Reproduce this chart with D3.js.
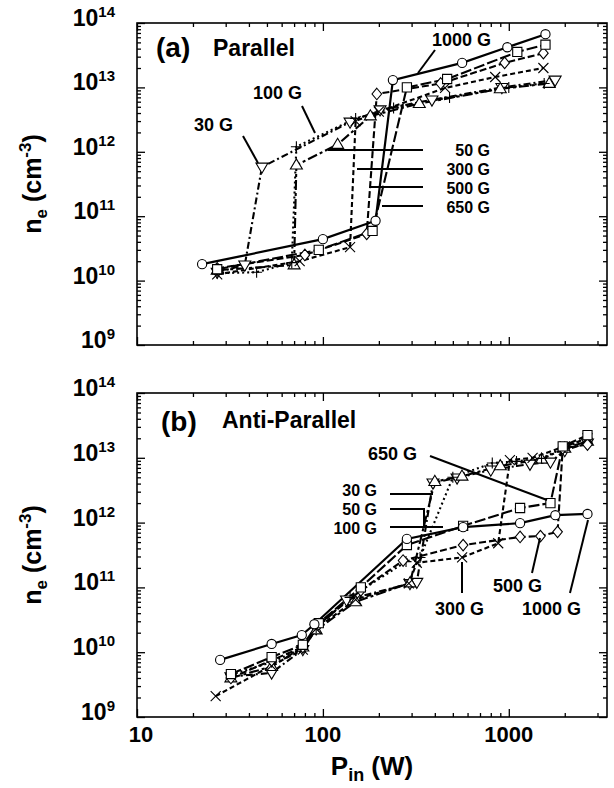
<!DOCTYPE html>
<html>
<head>
<meta charset="utf-8">
<script src="https://cdn.jsdelivr.net/npm/d3@7"></script>
<style>
  html, body { margin: 0; padding: 0; background: #fff; }
  svg { display: block; }
</style>
</head>
<body>
<svg id="chart" width="614" height="788"></svg>
<script>
// Electron density n_e versus input power P_in for several magnetic fields,
// (a) parallel and (b) anti-parallel field configuration.

// ---- data: [P_in (W), n_e (cm^-3)] ----
// (a) Parallel
const par30   = [[27,1.35e10],[38,1.75e10],[47,5.8e11],[140,2.9e12],[203,4.5e12],[386,6.4e12],[918,1.0e13],[1775,1.3e13]];
const par50   = [[27,1.45e10],[70,1.75e10],[72,6.2e11],[120,1.3e12],[180,3.6e12],[330,5.6e12],[900,9.5e12],[1650,1.15e13]];
const par100  = [[27,1.3e10],[44,1.35e10],[68,1.9e10],[72,1.2e12],[150,3.3e12],[240,4.8e12],[480,7.0e12],[1000,1.0e13],[1550,1.15e13]];
const par300  = [[27,1.25e10],[75,2.0e10],[140,3.3e10],[150,3.0e12],[200,4.2e12],[454,9.8e12],[845,1.45e13],[1535,2.0e13]];
const par500  = [[27,1.55e10],[80,2.5e10],[172,5.3e10],[195,7.9e12],[430,1.15e13],[950,2.4e13],[1535,3.4e13]];
const par650  = [[27,1.5e10],[95,3.0e10],[185,5.9e10],[283,1.0e13],[466,1.35e13],[1111,3.55e13],[1575,4.6e13]];
const par1000 = [[22.4,1.8e10],[100,4.4e10],[192,8.5e10],[238,1.3e13],[561,2.4e13],[982,4.2e13],[1575,6.7e13]];

// (b) Anti-Parallel
const anti30   = [[32,4.2e9],[53,4.8e9],[78,1.1e10],[92,2.3e10],[134,6.4e10],[294,1.15e11],[320,1.2e11],[391,4.1e12],[527,4.9e12],[800,6.5e12],[1300,8.0e12],[1675,8.6e12],[2000,1.3e13],[2650,1.7e13]];
const anti50   = [[32,4.0e9],[53,6.0e9],[78,1.2e10],[92,2.2e10],[150,6.0e10],[294,1.17e11],[400,4.3e12],[560,5.2e12],[900,7.5e12],[1500,9.5e12],[2000,1.4e13],[2650,1.8e13]];
const anti100  = [[32,4.5e9],[53,7.0e9],[78,1.15e10],[92,2.4e10],[140,7.0e10],[280,2.5e11],[333,2.9e11],[500,5.0e12],[815,8.3e12],[1100,8.8e12],[1500,9.8e12],[2000,1.45e13],[2650,2.0e13]];
const anti300  = [[26.5,2.1e9],[53,6.2e9],[78,1.1e10],[92,2.3e10],[150,6.5e10],[290,1.15e11],[320,2.4e11],[561,2.9e11],[877,4.8e11],[1014,9.2e12],[1343,1.0e13],[2000,1.5e13],[2650,2.0e13]];
const anti500  = [[32,4.0e9],[53,7.5e9],[78,1.2e10],[95,2.7e10],[160,9.0e10],[270,2.6e11],[568,4.5e11],[1150,6.0e11],[1480,6.2e11],[1830,7.2e11],[1950,1.4e13],[2650,1.6e13]];
const anti650  = [[32,4.6e9],[53,8.4e9],[78,1.3e10],[95,2.8e10],[160,1.0e11],[283,4.5e11],[568,8.9e11],[1150,1.68e12],[1675,2.0e12],[1950,1.5e13],[2650,2.24e13]];
const anti1000 = [[28,7.6e9],[53,1.34e10],[77,1.84e10],[90,2.7e10],[283,5.6e11],[568,8.5e11],[1150,9.8e11],[1780,1.3e12],[2650,1.36e12]];

const fields = ["30 G", "50 G", "100 G", "300 G", "500 G", "650 G", "1000 G"];
const xMajorTicks = [10, 100, 1000];
const yMajorTicks = [1e9, 1e10, 1e11, 1e12, 1e13, 1e14];

// ---- styles per field ----
const markerOf = { "30 G": "triDown", "50 G": "triUp", "100 G": "plus", "300 G": "times",
                   "500 G": "diamond", "650 G": "square", "1000 G": "circle" };
const dashOf = { "30 G": "7,3,2,3", "50 G": "10,3,3,3", "100 G": "2,3", "300 G": "5,3",
                 "500 G": "7,3", "650 G": "11,3", "1000 G": null };

const FONT = "'Liberation Sans', Arial, Helvetica, sans-serif";
const svg = d3.select("#chart");

const x = d3.scaleLog().domain([10, 3375]).range([137, 607]);

const panels = [
  { id: "a", tag: "(a)", title: "Parallel", top: 23, bottom: 345,
    data: [par30, par50, par100, par300, par500, par650, par1000] },
  { id: "b", tag: "(b)", title: "Anti-Parallel", top: 393, bottom: 717,
    data: [anti30, anti50, anti100, anti300, anti500, anti650, anti1000] }
];

function markerPath(type) {
  switch (type) {
    case "circle":  { const r = 4.6; return `M${r},0A${r},${r} 0 1,1 ${-r},0A${r},${r} 0 1,1 ${r},0Z`; }
    case "square":  { const s = 4.6; return `M${-s},${-s}H${s}V${s}H${-s}Z`; }
    case "diamond": { const s = 4.8; return `M0,${-s * 1.2}L${s},0L0,${s * 1.2}L${-s},0Z`; }
    case "triDown": { const s = 5.2; return `M${-s * 1.15},${-s * 0.75}H${s * 1.15}L0,${s * 1.2}Z`; }
    case "triUp":   { const s = 5.2; return `M${-s * 1.15},${s * 0.75}H${s * 1.15}L0,${-s * 1.2}Z`; }
    case "times":   { const s = 5; return `M${-s},${-s}L${s},${s}M${s},${-s}L${-s},${s}`; }
    case "plus":    { const s = 5.5; return `M${-s},0H${s}M0,${-s}V${s}`; }
  }
}

const minorX = [];
[10, 100, 1000].forEach(d => { for (let k = 2; k <= 9; k++) if (d * k <= 3375) minorX.push(d * k); });
const minorY = [];
[1e9, 1e10, 1e11, 1e12, 1e13].forEach(d => { for (let k = 2; k <= 9; k++) minorY.push(d * k); });

panels.forEach(p => {
  const y = d3.scaleLog().domain([1e9, 1e14]).range([p.bottom, p.top]);
  const g = svg.append("g").attr("class", "panel-" + p.id);

  // ticks on all four sides, pointing inward
  const tickGroups = [
    [d3.axisBottom(x), `translate(0,${p.bottom})`, xMajorTicks, minorX],
    [d3.axisTop(x), `translate(0,${p.top})`, xMajorTicks, minorX],
    [d3.axisLeft(y), `translate(${x.range()[0]},0)`, yMajorTicks, minorY],
    [d3.axisRight(y), `translate(${x.range()[1]},0)`, yMajorTicks, minorY]
  ];
  tickGroups.forEach(([axis, tr, majors, minors]) => {
    [[majors, -8], [minors, -4]].forEach(([vals, len]) => {
      const ax = g.append("g").attr("transform", tr)
        .call(axis.tickValues(vals).tickSize(len).tickFormat(""));
      ax.select(".domain").remove();
      ax.selectAll(".tick line").attr("stroke", "#000").attr("stroke-width", 1.3);
    });
  });

  // frame
  g.append("rect")
    .attr("x", x.range()[0]).attr("y", p.top)
    .attr("width", x.range()[1] - x.range()[0]).attr("height", p.bottom - p.top)
    .attr("fill", "none").attr("stroke", "#000").attr("stroke-width", 1.6);

  // y tick labels 10^n
  yMajorTicks.forEach(v => {
    const t = g.append("text")
      .attr("x", 115).attr("y", y(v) + 3)
      .attr("text-anchor", "end")
      .attr("font-family", FONT).attr("font-weight", "bold").attr("font-size", 23)
      .text("10");
    t.append("tspan").attr("dy", -9).attr("font-size", 15).text(Math.round(Math.log10(v)));
  });

  // y axis title
  const yt = g.append("text")
    .attr("transform", `translate(41,${(p.top + p.bottom) / 2}) rotate(-90)`)
    .attr("text-anchor", "middle")
    .attr("font-family", FONT).attr("font-weight", "bold").attr("font-size", 25);
  yt.append("tspan").text("n");
  yt.append("tspan").attr("font-size", 17).attr("dy", 6).text("e");
  yt.append("tspan").attr("dy", -6).text(" (cm");
  yt.append("tspan").attr("font-size", 17).attr("dy", -10).text("-3");
  yt.append("tspan").attr("dy", 10).text(")");

  // panel tag and title
  g.append("text").attr("x", p.id === "a" ? 156 : 161).attr("y", p.id === "a" ? 57 : 431)
    .attr("font-family", FONT).attr("font-weight", "bold").attr("font-size", 28).text(p.tag);
  g.append("text").attr("x", p.id === "a" ? 213 : 222).attr("y", p.id === "a" ? 56 : 428)
    .attr("font-family", FONT).attr("font-weight", "bold").attr("font-size", 23).text(p.title);

  // series lines
  const line = d3.line().x(d => x(d[0])).y(d => y(d[1]));
  p.data.forEach((arr, i) => {
    const f = fields[i];
    g.append("path").datum(arr)
      .attr("d", line)
      .attr("fill", "none").attr("stroke", "#000")
      .attr("stroke-width", f === "1000 G" ? 2.2 : 2.1)
      .attr("stroke-dasharray", dashOf[f]);
  });
  // series markers
  p.data.forEach((arr, i) => {
    const f = fields[i];
    g.selectAll(null).data(arr).enter().append("path")
      .attr("transform", d => `translate(${x(d[0])},${y(d[1])})`)
      .attr("d", markerPath(markerOf[f]))
      .attr("fill", "#fff").attr("stroke", "#000").attr("stroke-width", 1.1);
  });
});

// ---- field annotations (label text, label anchor, font size, pointer polyline) ----
const annotations = [
  // (a)
  { text: "1000 G", x: 432, y: 46, anchor: "start", fs: 18, pts: [[435, 50], [418, 73]] },
  { text: "100 G", x: 253, y: 99, anchor: "start", fs: 18, pts: [[302, 106], [315, 133]] },
  { text: "30 G", x: 194, y: 131, anchor: "start", fs: 18, pts: [[243, 136], [258, 163]] },
  { text: "50 G", x: 490, y: 156, anchor: "end", fs: 16, pts: [[328, 150], [423, 150]] },
  { text: "300 G", x: 490, y: 175, anchor: "end", fs: 16, pts: [[357, 169], [423, 169]] },
  { text: "500 G", x: 490, y: 194, anchor: "end", fs: 16, pts: [[370, 187], [423, 187]] },
  { text: "650 G", x: 490, y: 213, anchor: "end", fs: 16, pts: [[382, 206], [423, 206]] },
  // (b)
  { text: "650 G", x: 368, y: 460, anchor: "start", fs: 18, pts: [[430, 456], [547, 500]] },
  { text: "30 G", x: 377, y: 496, anchor: "end", fs: 16, pts: [[390, 494], [433, 494]] },
  { text: "50 G", x: 377, y: 515, anchor: "end", fs: 16, pts: [[390, 509], [424, 509], [424, 527]] },
  { text: "100 G", x: 377, y: 534, anchor: "end", fs: 16, pts: [[390, 527], [443, 527]] },
  { text: "300 G", x: 435, y: 615, anchor: "start", fs: 18, pts: [[462, 593], [462, 562]] },
  { text: "500 G", x: 493, y: 592, anchor: "start", fs: 18, pts: [[532, 573], [540, 538]] },
  { text: "1000 G", x: 522, y: 615, anchor: "start", fs: 18, pts: [[570, 593], [588, 520]] }
];
const ann = svg.append("g").attr("class", "annotations");
annotations.forEach(a => {
  ann.append("path")
    .attr("d", d3.line()(a.pts))
    .attr("fill", "none").attr("stroke", "#000").attr("stroke-width", 2);
  ann.append("text")
    .attr("x", a.x).attr("y", a.y).attr("text-anchor", a.anchor)
    .attr("font-family", FONT).attr("font-weight", "bold").attr("font-size", a.fs)
    .text(a.text);
});

// ---- x tick labels and title (bottom panel only) ----
xMajorTicks.forEach(v => {
  svg.append("text")
    .attr("x", x(v) + (v === 10 ? 4 : 0)).attr("y", 742)
    .attr("text-anchor", "middle")
    .attr("font-family", FONT).attr("font-weight", "bold").attr("font-size", 22)
    .text(v);
});
const xt = svg.append("text")
  .attr("x", 372).attr("y", 775).attr("text-anchor", "middle")
  .attr("font-family", FONT).attr("font-weight", "bold").attr("font-size", 26);
xt.append("tspan").text("P");
xt.append("tspan").attr("font-size", 18).attr("dy", 6).text("in");
xt.append("tspan").attr("dy", -6).text(" (W)");
</script>
</body>
</html>
